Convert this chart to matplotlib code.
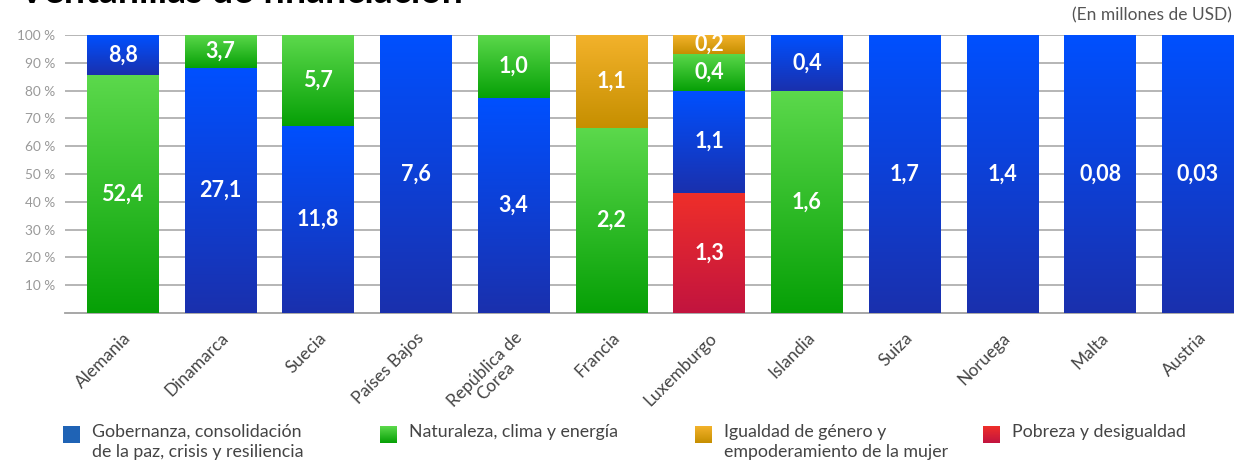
import numpy as np
import matplotlib
matplotlib.use("Agg")
import matplotlib.pyplot as plt
from matplotlib.colors import LinearSegmentedColormap

plt.rcParams['font.family'] = ['Lato', 'DejaVu Sans']

countries = ["Alemania", "Dinamarca", "Suecia", "Países Bajos", "República de\nCorea",
             "Francia", "Luxemburgo", "Islandia", "Suiza", "Noruega", "Malta", "Austria"]
gobernanza = [8.8, 27.1, 11.8, 7.6, 3.4, 0, 1.1, 0.4, 1.7, 1.4, 0.08, 0.03]
naturaleza = [52.4, 3.7, 5.7, 0, 1.0, 2.2, 0.4, 1.6, 0, 0, 0, 0]
igualdad = [0, 0, 0, 0, 0, 1.1, 0.2, 0, 0, 0, 0, 0]
pobreza = [0, 0, 0, 0, 0, 0, 1.3, 0, 0, 0, 0, 0]

series_names = ["Gobernanza, consolidación\nde la paz, crisis y resiliencia",
                "Naturaleza, clima y energía",
                "Igualdad de género y\nempoderamiento de la mujer",
                "Pobreza y desigualdad"]
series = [gobernanza, naturaleza, igualdad, pobreza]
# (top colour, bottom colour) of each gradient
grads = [("#0050ff", "#1a30ad"), ("#5cd94c", "#06a006"),
         ("#f3b22b", "#c68f00"), ("#ef2f2a", "#c2143f")]


def fmt(v):
    return ("%.2f" % v if v < 0.1 else "%.1f" % v).replace(".", ",")


fig = plt.figure(figsize=(12.34, 4.63), dpi=100)
ax = fig.add_axes([65 / 1234, 1 - 313 / 463, 1 - 65 / 1234, 278 / 463])

x = np.arange(len(countries))
for i in range(len(countries)):
    vals = [(s[i], k) for k, s in enumerate(series) if s[i] > 0]
    vals.sort(key=lambda t: -t[0])
    total = sum(v for v, _ in vals)
    bottom = 0
    for v, k in vals:
        h = v / total * 100
        bar = ax.bar(x[i], h, width=0.73, bottom=bottom, color="none", zorder=3)[0]
        cmap = LinearSegmentedColormap.from_list("g", [grads[k][1], grads[k][0]])
        ax.imshow(np.linspace(0, 1, 256).reshape(-1, 1), cmap=cmap, origin="lower",
                  aspect="auto", zorder=3,
                  extent=[bar.get_x(), bar.get_x() + bar.get_width(), bottom, bottom + h])
        ax.text(x[i], bottom + h / 2, fmt(v), ha="center", va="center", color="white",
                fontsize=15.5, fontweight="bold", zorder=5)
        bottom += h

ax.set_xlim(-0.59, 11.37)
ax.set_ylim(0, 100)
ax.set_yticks(range(10, 101, 10))
ax.set_yticklabels(["%d %%" % t for t in range(10, 101, 10)], color="#999999", fontsize=9.8)
ax.yaxis.grid(True, color="#b0b0b0", linewidth=1.3, zorder=0)
ax.set_axisbelow(True)
ax.tick_params(axis="y", length=0, pad=7)
ax.set_xticks(x)
ax.set_xticklabels(countries, rotation=45, ha="right", rotation_mode="anchor",
                   fontsize=12.5, color="#444444", multialignment="center",
                   linespacing=0.95)
ax.tick_params(axis="x", length=0, pad=12)
for s in ["top", "right", "left"]:
    ax.spines[s].set_visible(False)
ax.spines["bottom"].set_color("#a0a0a0")
ax.spines["bottom"].set_linewidth(1.3)

# title (cut off at the top) and unit note
fig.text(18 / 1234, 1 - 3 / 463, "Ventanillas de financiación", fontsize=27,
         fontweight="bold", color="black", va="baseline", ha="left")
fig.text(1232 / 1234, 1 - 15 / 463, "(En millones de USD)", fontsize=12.5,
         color="#555555", ha="right", va="center")

# legend
leg_x = [63, 380, 695, 983]
for k in range(4):
    lax = fig.add_axes([leg_x[k] / 1234, 1 - 443 / 463, 17 / 1234, 17 / 463])
    if k == 0:
        lax.imshow([[0]], cmap=LinearSegmentedColormap.from_list("s", ["#1f63b5", "#1f63b5"]),
                   aspect="auto")
    else:
        cmap = LinearSegmentedColormap.from_list("g", [grads[k][1], grads[k][0]])
        lax.imshow(np.linspace(0, 1, 64).reshape(-1, 1), cmap=cmap, origin="lower", aspect="auto")
    lax.axis("off")
    fig.text((leg_x[k] + 29) / 1234, 1 - 424 / 463, series_names[k], fontsize=12.8,
             color="#444444", ha="left", va="top", linespacing=1.3)

fig.savefig("out.png", dpi=100)
